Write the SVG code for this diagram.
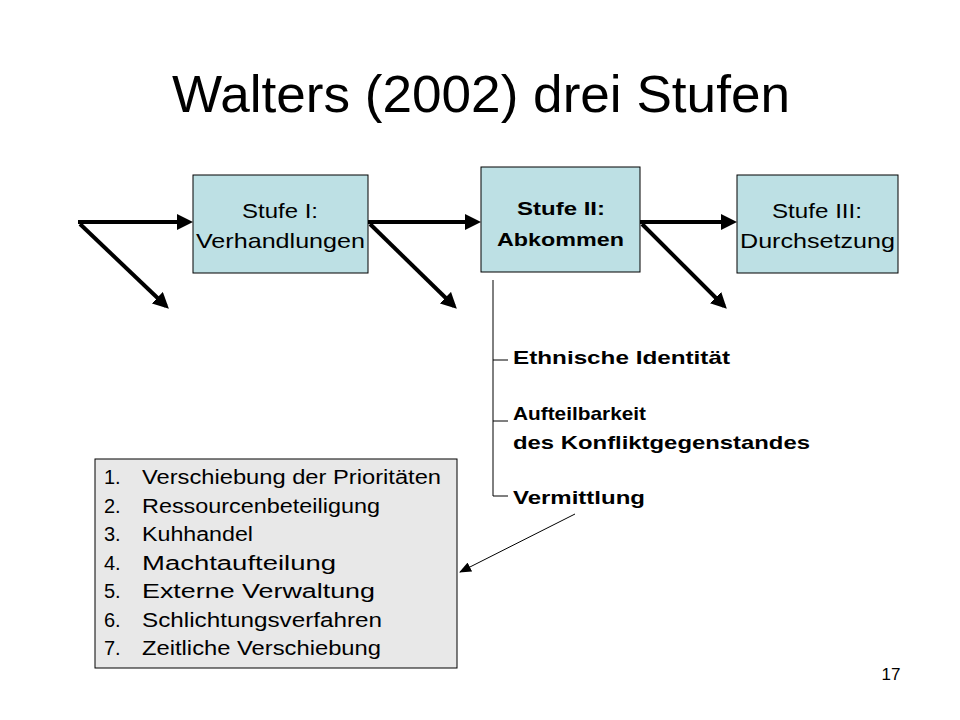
<svg xmlns="http://www.w3.org/2000/svg" width="960" height="720" viewBox="0 0 960 720">
<defs>
<style>
text{font-family:"Liberation Sans",Arial,sans-serif;fill:#000}
.box{fill:#bde0e4;stroke:#000;stroke-width:1}
.thick{stroke:#000;stroke-width:4;fill:none}
.thin{stroke:#000;stroke-width:1;fill:none}
.lbl{font-size:21px}
.b{font-weight:bold;font-size:19px}
.li{font-size:20px}
</style>
<marker id="ah" markerWidth="4" markerHeight="4" refX="3" refY="2" orient="auto" markerUnits="strokeWidth"><path d="M0,0 L4,2 L0,4 z" fill="#000"/></marker>
<marker id="ahs" markerWidth="12" markerHeight="10" refX="11" refY="5" orient="auto" markerUnits="userSpaceOnUse"><path d="M0,0 L12,5 L0,10 z" fill="#000"/></marker>
</defs>
<rect width="960" height="720" fill="#fff"/>
<text x="172" y="112" font-size="52" textLength="618" lengthAdjust="spacingAndGlyphs">Walters (2002) drei Stufen</text>
<g id="connectors">
<line class="thick" x1="78" y1="222" x2="189" y2="222" marker-end="url(#ah)"/>
<line class="thick" x1="80" y1="224" x2="166" y2="306" marker-end="url(#ah)"/>
<line class="thick" x1="368" y1="222" x2="477" y2="222" marker-end="url(#ah)"/>
<line class="thick" x1="370" y1="224" x2="454" y2="306" marker-end="url(#ah)"/>
<line class="thick" x1="640" y1="222" x2="733" y2="222" marker-end="url(#ah)"/>
<line class="thick" x1="642" y1="224" x2="724" y2="306" marker-end="url(#ah)"/>
<path class="thin" d="M493,280 V496 H508 M493,360 H508 M493,421 H508"/>
<line class="thin" x1="575" y1="514" x2="460" y2="572" marker-end="url(#ahs)"/>
</g>
<g id="stufe1"><rect class="box" x="193" y="175" width="175" height="98"/>
<text class="lbl" x="242" y="218" textLength="76" lengthAdjust="spacingAndGlyphs">Stufe I:</text><text class="lbl" x="196" y="248" textLength="169" lengthAdjust="spacingAndGlyphs">Verhandlungen</text></g>
<g id="stufe2"><rect class="box" x="481" y="167" width="159" height="105"/>
<text class="b" x="517" y="215" textLength="88" lengthAdjust="spacingAndGlyphs">Stufe II:</text><text class="b" x="497" y="246" textLength="127" lengthAdjust="spacingAndGlyphs">Abkommen</text></g>
<g id="stufe3"><rect class="box" x="737" y="175" width="161" height="98"/>
<text class="lbl" x="772" y="218" textLength="90" lengthAdjust="spacingAndGlyphs">Stufe III:</text><text class="lbl" x="740" y="248" textLength="155" lengthAdjust="spacingAndGlyphs">Durchsetzung</text></g>
<g id="faktoren">
<text class="b" x="513" y="364" textLength="217" lengthAdjust="spacingAndGlyphs">Ethnische Identität</text>
<text class="b" x="513" y="420" textLength="133" lengthAdjust="spacingAndGlyphs">Aufteilbarkeit</text>
<text class="b" x="513" y="449" textLength="297" lengthAdjust="spacingAndGlyphs">des Konfliktgegenstandes</text>
<text class="b" x="513" y="504" textLength="132" lengthAdjust="spacingAndGlyphs">Vermittlung</text>
</g>
<g id="liste"><rect x="95" y="459" width="362" height="209" fill="#e8e8e8" stroke="#000"/>
<g class="li">
<text x="104" y="484">1.</text><text x="142" y="484" textLength="299" lengthAdjust="spacingAndGlyphs">Verschiebung der Prioritäten</text>
<text x="104" y="512.5">2.</text><text x="142" y="512.5" textLength="238" lengthAdjust="spacingAndGlyphs">Ressourcenbeteiligung</text>
<text x="104" y="541">3.</text><text x="142" y="541" textLength="111" lengthAdjust="spacingAndGlyphs">Kuhhandel</text>
<text x="104" y="569.5">4.</text><text x="142" y="569.5" textLength="194" lengthAdjust="spacingAndGlyphs">Machtaufteilung</text>
<text x="104" y="598">5.</text><text x="142" y="598" textLength="233" lengthAdjust="spacingAndGlyphs">Externe Verwaltung</text>
<text x="104" y="626.5">6.</text><text x="142" y="626.5" textLength="240" lengthAdjust="spacingAndGlyphs">Schlichtungsverfahren</text>
<text x="104" y="655">7.</text><text x="142" y="655" textLength="239" lengthAdjust="spacingAndGlyphs">Zeitliche Verschiebung</text>
</g></g>
<text x="891" y="680" font-size="17" text-anchor="middle">17</text>
</svg>
